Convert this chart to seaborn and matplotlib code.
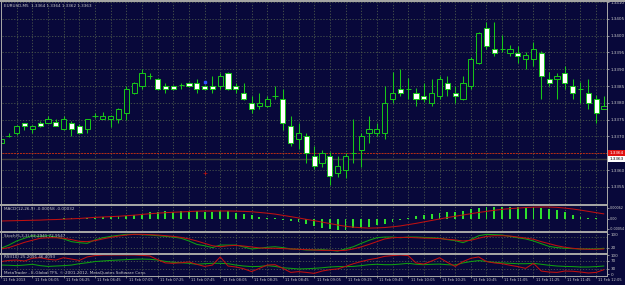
import numpy as np
import pandas as pd
import matplotlib
matplotlib.use("Agg")
import matplotlib.pyplot as plt
from matplotlib.transforms import blended_transform_factory
import seaborn as sns

# EURUSD M5 candles, 11 Feb 2013 05:45 .. 12:10
opens = [1.33680, 1.33701, 1.33710, 1.33740, 1.33722, 1.33740, 1.33740, 1.33743, 1.33722, 1.33740,
         1.33731, 1.33722, 1.33761, 1.33752, 1.33752, 1.33752, 1.33770, 1.33829, 1.33850, 1.33880,
         1.33871, 1.33850, 1.33850, 1.33853, 1.33859, 1.33859, 1.33850, 1.33850, 1.33850, 1.33889,
         1.33850, 1.33829, 1.33799, 1.33790, 1.33790, 1.33820, 1.33811, 1.33731, 1.33692, 1.33701,
         1.33642, 1.33621, 1.33642, 1.33591, 1.33600, 1.33651, 1.33660, 1.33710, 1.33710, 1.33710,
         1.33811, 1.33841, 1.33841, 1.33829, 1.33820, 1.33799, 1.33820, 1.33859, 1.33829, 1.33811,
         1.33850, 1.33918, 1.34023, 1.33960, 1.33960, 1.33948, 1.33948, 1.33930, 1.33930, 1.33948,
         1.33871, 1.33871, 1.33889, 1.33850, 1.33841, 1.33829, 1.33811, 1.33782]
highs = [1.33710, 1.33710, 1.33734, 1.33740, 1.33734, 1.33746, 1.33761, 1.33752, 1.33761, 1.33746,
         1.33737, 1.33752, 1.33770, 1.33773, 1.33764, 1.33785, 1.33850, 1.33862, 1.33901, 1.33889,
         1.33874, 1.33859, 1.33853, 1.33859, 1.33862, 1.33871, 1.33853, 1.33880, 1.33889, 1.33892,
         1.33859, 1.33859, 1.33820, 1.33829, 1.33820, 1.33850, 1.33841, 1.33761, 1.33740, 1.33710,
         1.33671, 1.33660, 1.33654, 1.33642, 1.33651, 1.33752, 1.33710, 1.33761, 1.33740, 1.33850,
         1.33892, 1.33901, 1.33874, 1.33844, 1.33859, 1.33871, 1.33880, 1.33880, 1.33850, 1.33880,
         1.33936, 1.34011, 1.34040, 1.34040, 1.34002, 1.33972, 1.33969, 1.33950, 1.33981, 1.33954,
         1.33892, 1.33889, 1.33910, 1.33871, 1.33862, 1.33871, 1.33823, 1.33820]
lows = [1.33680, 1.33698, 1.33704, 1.33719, 1.33710, 1.33728, 1.33740, 1.33731, 1.33719, 1.33701,
        1.33707, 1.33710, 1.33755, 1.33752, 1.33728, 1.33740, 1.33749, 1.33826, 1.33841, 1.33871,
        1.33838, 1.33829, 1.33838, 1.33841, 1.33847, 1.33829, 1.33838, 1.33829, 1.33841, 1.33838,
        1.33829, 1.33808, 1.33770, 1.33782, 1.33787, 1.33811, 1.33719, 1.33671, 1.33663, 1.33621,
        1.33603, 1.33609, 1.33555, 1.33579, 1.33576, 1.33621, 1.33609, 1.33680, 1.33701, 1.33692,
        1.33799, 1.33820, 1.33811, 1.33790, 1.33802, 1.33790, 1.33811, 1.33820, 1.33799, 1.33808,
        1.33841, 1.33915, 1.33960, 1.33939, 1.33951, 1.33939, 1.33918, 1.33901, 1.33910, 1.33811,
        1.33850, 1.33811, 1.33841, 1.33811, 1.33799, 1.33782, 1.33740, 1.33782]
closes = [1.33692, 1.33701, 1.33731, 1.33731, 1.33731, 1.33731, 1.33752, 1.33731, 1.33752, 1.33722,
          1.33710, 1.33752, 1.33761, 1.33761, 1.33761, 1.33782, 1.33841, 1.33859, 1.33889, 1.33880,
          1.33841, 1.33841, 1.33841, 1.33853, 1.33850, 1.33841, 1.33841, 1.33841, 1.33880, 1.33841,
          1.33841, 1.33811, 1.33782, 1.33799, 1.33811, 1.33820, 1.33740, 1.33680, 1.33710, 1.33651,
          1.33612, 1.33651, 1.33582, 1.33612, 1.33642, 1.33651, 1.33701, 1.33722, 1.33722, 1.33799,
          1.33829, 1.33829, 1.33841, 1.33811, 1.33811, 1.33829, 1.33871, 1.33841, 1.33820, 1.33859,
          1.33930, 1.34008, 1.33969, 1.33948, 1.33960, 1.33960, 1.33939, 1.33942, 1.33960, 1.33880,
          1.33859, 1.33880, 1.33859, 1.33829, 1.33841, 1.33799, 1.33770, 1.33790]

ask_price = 1.33651
bid_price = 1.33633
price_ticks = [1.3355, 1.3360, 1.3365, 1.3370, 1.3375, 1.3380, 1.3385, 1.3390, 1.3395, 1.3400, 1.3405, 1.3410]

macd_hist = [-0.00003, -0.00002, -0.00001, 0.00000, 0.00001, 0.00001, 0.00002, 0.00002, 0.00003, 0.00003,
             0.00004, 0.00005, 0.00007, 0.00011, 0.00013, 0.00015, 0.00018, 0.00022, 0.00029, 0.00036,
             0.00040, 0.00044, 0.00040, 0.00044, 0.00044, 0.00044, 0.00037, 0.00037, 0.00044, 0.00044,
             0.00031, 0.00026, 0.00022, 0.00013, 0.00007, 0.00004, -0.00005, -0.00011, -0.00018, -0.00029,
             -0.00037, -0.00051, -0.00055, -0.00062, -0.00059, -0.00051, -0.00048, -0.00042, -0.00033, -0.00029,
             -0.00015, -0.00007, 0.00007, 0.00018, 0.00022, 0.00026, 0.00031, 0.00037, 0.00040, 0.00044,
             0.00055, 0.00059, 0.00066, 0.00068, 0.00068, 0.00068, 0.00068, 0.00062, 0.00068, 0.00062,
             0.00055, 0.00050, 0.00040, 0.00022, 0.00013, 0.00007, 0.00004, 0.00000]
macd_signal = [-0.00011, -0.00010, -0.00009, -0.00008, -0.00007, -0.00006, -0.00004, -0.00003, -0.00001, 0.00001,
               0.00003, 0.00006, 0.00009, 0.00011, 0.00013, 0.00015, 0.00018, 0.00021, 0.00025, 0.00029,
               0.00032, 0.00035, 0.00037, 0.00039, 0.00041, 0.00043, 0.00044, 0.00044, 0.00044, 0.00044,
               0.00043, 0.00042, 0.00040, 0.00036, 0.00032, 0.00027, 0.00020, 0.00013, 0.00006, -0.00002,
               -0.00009, -0.00017, -0.00025, -0.00033, -0.00040, -0.00045, -0.00048, -0.00050, -0.00049, -0.00047,
               -0.00043, -0.00038, -0.00031, -0.00024, -0.00016, -0.00008, 0.00000, 0.00008, 0.00015, 0.00022,
               0.00029, 0.00036, 0.00042, 0.00048, 0.00053, 0.00057, 0.00060, 0.00063, 0.00065, 0.00066,
               0.00066, 0.00064, 0.00060, 0.00055, 0.00049, 0.00042, 0.00035, 0.00028]

stoch_main = [16, 35, 59, 75, 90, 86, 90, 82, 71, 55, 49, 45, 65, 78, 86, 92, 98, 98, 96, 94,
              90, 86, 82, 75, 59, 39, 31, 20, 35, 35, 35, 24, 12, 16, 22, 25, 20, 12, 10, 6,
              6, 8, 4, 0, 12, 25, 45, 63, 78, 82, 82, 78, 82, 82, 80, 78, 75, 67, 61, 49,
              67, 90, 98, 96, 94, 86, 78, 71, 59, 43, 27, 20, 16, 14, 12, 12, 12, 16]
stoch_signal = [12, 20, 35, 51, 63, 75, 78, 78, 75, 67, 57, 55, 61, 71, 80, 88, 94, 98, 98, 96,
                94, 90, 86, 80, 71, 59, 45, 31, 25, 31, 33, 29, 24, 18, 16, 16, 14, 12, 10, 8,
                6, 4, 4, 2, 4, 12, 24, 39, 55, 71, 78, 80, 80, 78, 76, 75, 73, 69, 65, 59,
                63, 75, 86, 90, 90, 88, 82, 76, 69, 55, 43, 31, 22, 16, 12, 10, 10, 12]

osc_red = [66, 72, 74, 69, 83, 86, 78, 74, 86, 79, 72, 90, 97, 100, 100, 100, 100, 100, 98, 95,
           76, 59, 57, 60, 64, 52, 41, 48, 90, 43, 38, 29, 14, 31, 48, 50, 31, 10, 14, 10,
           5, 17, 24, 28, 41, 55, 66, 76, 83, 93, 97, 100, 97, 59, 53, 69, 86, 62, 41, 66,
           83, 90, 66, 59, 55, 47, 40, 31, 57, 17, 12, 10, 17, 16, 12, 7, 10, 24]
osc_green = [48, 47, 45, 48, 52, 45, 41, 43, 45, 48, 55, 60, 66, 69, 72, 74, 76, 78, 79, 78,
             74, 67, 62, 60, 57, 52, 55, 57, 57, 55, 48, 43, 40, 41, 45, 41, 34, 31, 28, 29,
             31, 34, 38, 40, 40, 41, 45, 50, 52, 50, 50, 53, 57, 52, 50, 52, 53, 50, 48, 59,
             66, 71, 67, 62, 59, 57, 55, 55, 57, 52, 47, 43, 41, 40, 38, 38, 40, 43]

time_labels = ["11 Feb 2013", "11 Feb 06:05", "11 Feb 06:25", "11 Feb 06:45", "11 Feb 07:05",
               "11 Feb 07:25", "11 Feb 07:45", "11 Feb 08:05", "11 Feb 08:25", "11 Feb 08:45",
               "11 Feb 09:05", "11 Feb 09:25", "11 Feb 09:45", "11 Feb 10:05", "11 Feb 10:25",
               "11 Feb 10:45", "11 Feb 11:05", "11 Feb 11:25", "11 Feb 11:45", "11 Feb 12:05"]

BG = "#08083a"
GRID = "#4c584c"
CANDLE = "#18c818"
TXT = "#c8c8c8"
SEP = "#a4a4a4"

sns.set_style("dark", {"axes.facecolor": BG, "figure.facecolor": BG})
plt.rcParams["font.family"] = ["DejaVu Sans"]

W, H = 625, 285
fig = plt.figure(figsize=(W / 100, H / 100), dpi=100)
fig.patch.set_facecolor(BG)


def box(x0, y0, x1, y1):
    return [x0 / W, 1 - y1 / H, (x1 - x0) / W, (y1 - y0) / H]


ax = fig.add_axes(box(2, 2, 607, 203.5))
ax_macd = fig.add_axes(box(2, 205.5, 607, 231))
ax_st = fig.add_axes(box(2, 233, 607, 252.5))
ax_osc = fig.add_axes(box(2, 254.5, 607, 276))

df = pd.DataFrame({"open": opens, "high": highs, "low": lows, "close": closes})
df["bar"] = np.arange(len(df))
n = len(df)

for a in (ax, ax_macd, ax_st, ax_osc):
    a.set_facecolor(BG)
    for s in a.spines.values():
        s.set_visible(False)
    a.set_xticks(range(2, n, 2))
    a.tick_params(axis="x", length=0, labelbottom=False)
    a.grid(True, axis="x", color=GRID, ls=(0, (1.5, 2)), lw=0.6)
    a.yaxis.tick_right()
    a.tick_params(axis="y", labelsize=3.0, colors=TXT, length=1.5, width=0.5, pad=1)

# main price chart
up = df["close"] > df["open"]
ax.vlines(df["bar"], df["low"], df["high"], color=CANDLE, lw=0.75, zorder=2)
ax.bar(df["bar"], (df["close"] - df["open"]).abs(), bottom=df[["open", "close"]].min(axis=1),
       width=0.66, color=np.where(up, BG, "white"), edgecolor=CANDLE, linewidth=0.7, zorder=3)
ax.grid(True, axis="y", color=GRID, ls=(0, (1.5, 2)), lw=0.6)
ax.axhline(ask_price, color="#b82a12", lw=0.7, ls=(0, (2, 1)), zorder=1)
ax.axhline(bid_price, color="#3e3e3e", lw=1.0, zorder=1)
lab = blended_transform_factory(ax.transAxes, ax.transData)
ax.text(1.004, ask_price, "1.3364", transform=lab, fontsize=3.0, color="white", va="center",
        bbox=dict(boxstyle="square,pad=0.25", fc="#e01010", ec="none"), zorder=6)
ax.text(1.004, bid_price, "1.3363", transform=lab, fontsize=3.0, color="black", va="center",
        bbox=dict(boxstyle="square,pad=0.25", fc="white", ec="none"), zorder=6)
ax.plot([26], [1.33862], marker="s", ms=1.8, color="#3050ff", zorder=4)
ax.plot([26], [1.33591], marker="+", ms=2.5, mew=0.5, color="#c01010", zorder=4)
ax.text(0.004, 0.99, "EURUSD,M5  1.3364 1.3364 1.3362 1.3363", transform=ax.transAxes,
        fontsize=3.0, color=TXT, va="top", ha="left")

# MACD
ax_macd.bar(df["bar"], macd_hist, width=0.24, color="#2ee02e", edgecolor="none", linewidth=0, zorder=2)
sns.lineplot(x=df["bar"], y=macd_signal, ax=ax_macd, color="#c01010", lw=0.75, zorder=3)
ax_macd.text(0.004, 0.93, "MACD(12,26,9) -0.00058 -0.00032", transform=ax_macd.transAxes,
             fontsize=3.0, color=TXT, va="top")

# Stochastic
for lvl in (80, 20):
    ax_st.axhline(lvl, color=GRID, ls=(0, (1.5, 2)), lw=0.6)
sns.lineplot(x=df["bar"], y=stoch_main, ax=ax_st, color="#10a010", lw=0.75, zorder=3)
sns.lineplot(x=df["bar"], y=stoch_signal, ax=ax_st, color="#c01010", lw=0.75, zorder=3)
ax_st.text(0.004, 0.95, "Stoch(5,3,3) 62.2941 72.9547", transform=ax_st.transAxes,
           fontsize=3.0, color=TXT, va="top")

# lower oscillator
for lvl in (70, 30):
    ax_osc.axhline(lvl, color=GRID, ls=(0, (1.5, 2)), lw=0.6)
sns.lineplot(x=df["bar"], y=osc_green, ax=ax_osc, color="#10a010", lw=0.75, zorder=3)
sns.lineplot(x=df["bar"], y=osc_red, ax=ax_osc, color="#c01010", lw=0.75, zorder=3)
ax_osc.text(0.004, 0.96, "RSI(10) 25.2091 46.4093", transform=ax_osc.transAxes,
            fontsize=3.0, color=TXT, va="top")
ax_osc.text(0.004, 0.06, "MetaTrader - E-Global TFS, \u00a9 2001-2012, MetaQuotes Software Corp.",
            transform=ax_osc.transAxes, fontsize=3.0, color=TXT, va="bottom")

# time axis
tb = blended_transform_factory(ax_osc.transData, ax_osc.transAxes)
label_bars = list(range(0, n, 4))[:len(time_labels)]
ax_osc.vlines(label_bars, -0.1, 0, transform=tb, color=SEP, lw=0.5, clip_on=False)
for b, t in zip(label_bars, time_labels):
    ax_osc.text(b + 0.3, -0.1, t, transform=tb, fontsize=2.6, color=TXT,
                va="top", ha="left", clip_on=False)

# scales (set last so nothing rescales them)
for a in (ax, ax_macd, ax_st, ax_osc):
    a.set_autoscale_on(False)
    a.set_xlim(0.128, 77.39)
    a.set_xlabel("")
    a.set_ylabel("")

ax.set_yticks(price_ticks)
ax.set_yticklabels([f"{p:.4f}" for p in price_ticks])
ax.set_ylim(1.335003, 1.34100)

ax_macd.set_yticks([0.00062, 0.0, -0.00054])
ax_macd.set_yticklabels(["0.00062", "0.00", "-0.00054"])
ax_macd.tick_params(axis="y", labelsize=2.4, pad=0.5)
ax_macd.set_ylim(-0.00066, 0.0007425)

ax_st.set_yticks([100, 20])
ax_st.set_yticklabels(["100", "20"])
ax_st.set_ylim(-8.8, 105.9)

ax_osc.set_yticks([100, 70, 30, 0])
ax_osc.set_yticklabels(["100", "70", "30", "0"])
ax_osc.set_ylim(-8.6, 102.6)


# frame and panel separators
def band(x0, y0, x1, y1, color=SEP):
    fig.add_artist(plt.Rectangle((x0 / W, 1 - y1 / H), (x1 - x0) / W, (y1 - y0) / H,
                                 transform=fig.transFigure, color=color, lw=0, zorder=10))


band(0, 0.5, 625, 2)
band(0.5, 0, 2, 277)
band(606.5, 0, 607.5, 277)
for y0, y1 in ((203.5, 205.5), (231, 233), (252.5, 254.5), (276, 277)):
    band(0, y0, 607.5, y1)

fig.savefig("out.png", dpi=100, facecolor=BG)
